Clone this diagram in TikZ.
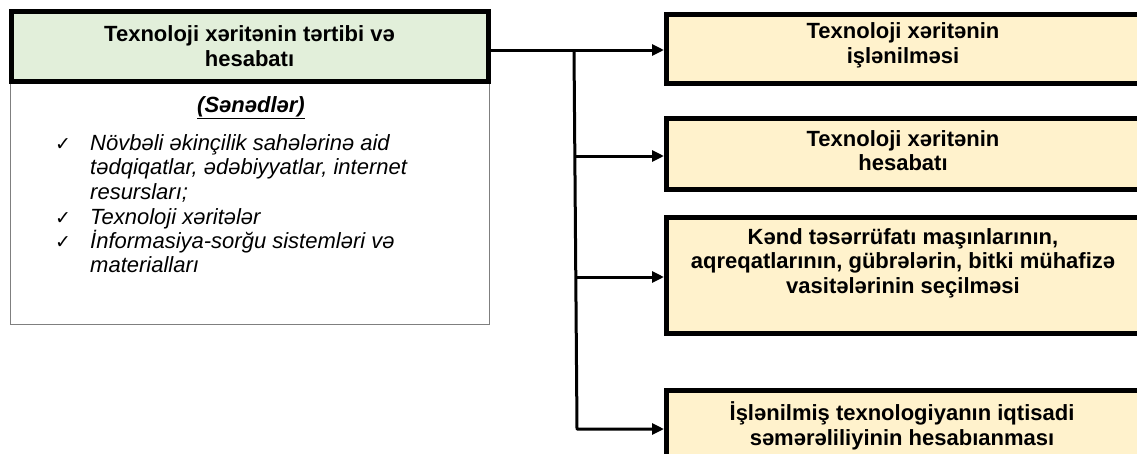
\documentclass[tikz,border=0pt]{standalone}
\usepackage{fontspec}
\setmainfont{Liberation Sans}
\newfontfamily\symfont{DejaVu Sans}
\usetikzlibrary{arrows.meta}
\definecolor{gfill}{HTML}{E2EFDA}
\definecolor{ofill}{HTML}{FFF2CC}
\definecolor{wline}{HTML}{7F7F7F}
\tikzset{
  gbox/.style={draw=black, line width=5pt, fill=gfill, inner sep=0pt, align=center,
    font=\fontsize{22}{25}\selectfont\bfseries},
  obox/.style={draw=black, line width=4.5pt, fill=ofill, inner sep=0pt, anchor=north west},
  wbox/.style={draw=wline, line width=1.3pt, fill=white, inner sep=0pt, anchor=north west},
  otext/.style={align=center, inner sep=0pt, font=\fontsize{22}{24.5}\selectfont\bfseries},
  ltext/.style={anchor=base west, inner sep=0pt, font=\fontsize{22}{24.5}\selectfont\itshape},
  chk/.style={anchor=base, inner sep=0pt, font=\fontsize{19}{19}\selectfont\symfont},
  conn/.style={line width=3pt, line join=round},
  arr/.style={conn, -{Triangle[length=12pt, width=11pt]}}
}
\begin{document}
\begin{tikzpicture}[x=1pt, y=-1pt]
\useasboundingbox (0,0) rectangle (1137,453);
\clip (0,0) rectangle (1137,453);

% left boxes
\node[wbox, minimum width=479pt, minimum height=242pt] (w) at (10,82) {};
\node[gbox, minimum width=477pt, minimum height=70pt] (g) at (249.5,46) {Texnoloji xəritənin tərtibi və\\hesabatı};

% documents text
\node[anchor=base, inner sep=0pt, font=\fontsize{22}{24.5}\selectfont\bfseries\itshape] (h) at (251,112) {\underline{(Sənədlər)}};
\node[chk] (c1) at (63,150) {✓};
\node[ltext] (l1) at (90,150) {Növbəli əkinçilik sahələrinə aid};
\node[ltext] (l2) at (90,174) {tədqiqatlar, ədəbiyyatlar, internet};
\node[ltext] (l3) at (90,199) {resursları;};
\node[chk] (c2) at (63,224) {✓};
\node[ltext] (l4) at (90,224) {Texnoloji xəritələr};
\node[chk] (c3) at (63,248) {✓};
\node[ltext] (l5) at (90,248) {İnformasiya-sorğu sistemləri və};
\node[ltext] (l6) at (90,272) {materialları};

% right boxes
\node[obox, minimum width=478pt, minimum height=69pt] (b1) at (664,12) {};
\node[obox, minimum width=478pt, minimum height=71pt] (b2) at (664,116) {};
\node[obox, minimum width=478pt, minimum height=116pt] (b3) at (664,215) {};
\node[obox, minimum width=478pt, minimum height=100pt] (b4) at (664,388) {};

\node[otext] (t1) at (903,45.5) {Texnoloji xəritənin\\işlənilməsi};
\node[otext] (t2) at (903,150.5) {Texnoloji xəritənin\\hesabatı};
\node[otext] (t3) at (903,263) {Kənd təsərrüfatı maşınlarının,\\aqreqatlarının, gübrələrin, bitki mühafizə\\vasitələrinin seçilməsi};
\node[otext] (t4) at (902,426) {İşlənilmiş texnologiyanın iqtisadi\\səmərəliliyinin hesabıanması};

% connectors
\coordinate (m) at (574,50);
\coordinate (j2) at (575,156);
\coordinate (j3) at (576,277);
\coordinate (bot) at (577,429);
\draw[arr] (g.east |- m) -- (m -| b1.west);
\draw[arr] (m) -- (bot) -- (bot -| b4.west);
\draw[arr] (j2) -- (j2 -| b2.west);
\draw[arr] (j3) -- (j3 -| b3.west);
\end{tikzpicture}
\end{document}
